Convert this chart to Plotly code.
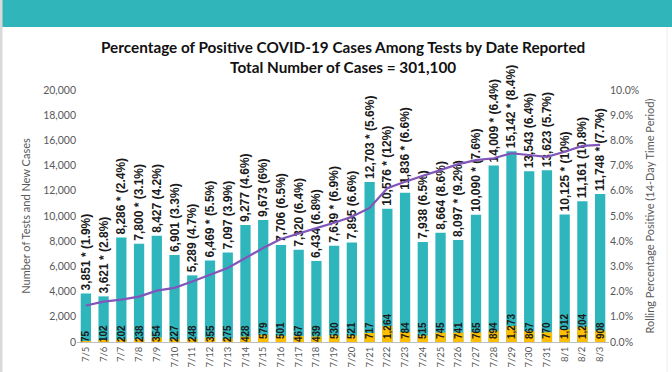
import plotly.graph_objects as go

dates = ["7/5","7/6","7/7","7/8","7/9","7/10","7/11","7/12","7/13","7/14","7/15","7/16","7/17","7/18","7/19",
         "7/20","7/21","7/22","7/23","7/24","7/25","7/26","7/27","7/28","7/29","7/30","7/31","8/1","8/2","8/3"]
tests = [3851,3621,8286,7800,8427,6901,5289,6469,7097,9277,9673,7706,7320,6434,7639,
         7895,12703,10576,11836,7938,8664,8097,10090,14009,15142,13543,13623,10125,11161,11748]
tests_labels = ["3,851 * (1.9%)","3,621 * (2.8%)","8,286 * (2.4%)","7,800 * (3.1%)","8,427 (4.2%)",
                "6,901 (3.3%)","5,289 (4.7%)","6,469 * (5.5%)","7,097 (3.9%)","9,277 (4.6%)",
                "9,673 (6%)","7,706 (6.5%)","7,320 (6.4%)","6,434 (6.8%)","7,639 * (6.9%)",
                "7,895 (6.6%)","12,703 * (5.6%)","10,576 * (12%)","11,836 * (6.6%)","7,938 (6.5%)",
                "8,664 (8.6%)","8,097 * (9.2%)","10,090 * (7.6%)","14,009 * (6.4%)","15,142 * (8.4%)",
                "13,543 (6.4%)","13,623 (5.7%)","10,125 * (10%)","11,161 (10.8%)","11,748 * (7.7%)"]
cases = [75,102,202,238,354,227,248,355,275,428,579,501,467,439,530,
         521,717,1264,784,515,745,741,765,894,1273,867,770,1012,1204,908]
rolling_pct = [1.45,1.6,1.68,1.8,2.04,2.15,2.4,2.66,2.94,3.33,3.73,4.09,4.29,4.52,4.73,
               4.97,5.32,6.1,6.36,6.59,6.83,7.06,7.22,7.29,7.49,7.42,7.35,7.55,7.78,7.82]

TEAL = "#2FB6BC"
GOLD = "#FFBF00"
PURPLE = "#8155BA"
GREY = "#595959"

fig = go.Figure()
fig.add_trace(go.Bar(
    x=dates, y=tests, marker_color=TEAL, marker_line_width=0,
    text=tests_labels, textposition="outside", textangle=-90,
    constraintext="none", cliponaxis=False,
    textfont=dict(family="Liberation Sans", size=12, color="#1a1a1a", weight="bold"),
    showlegend=False, hoverinfo="skip"))
fig.add_trace(go.Bar(
    x=dates, y=cases, marker_color=GOLD, marker_line_width=0,
    text=[f"{c:,}" for c in cases], textposition="inside", insidetextanchor="start",
    textangle=-90, constraintext="none", cliponaxis=False,
    textfont=dict(family="Liberation Sans", size=10, color="#1a1a1a", weight="bold"),
    showlegend=False, hoverinfo="skip"))
fig.add_trace(go.Scatter(
    x=dates, y=rolling_pct, yaxis="y2", mode="lines",
    line=dict(color=PURPLE, width=2.2), showlegend=False, hoverinfo="skip"))

fig.update_layout(
    width=672, height=372,
    margin=dict(l=77, r=63, t=90, b=30),
    paper_bgcolor="white", plot_bgcolor="white",
    barmode="overlay", bargap=0.42,
    font=dict(family="Lato", color=GREY),
    xaxis=dict(type="category", tickangle=-90, showline=True, linecolor="#bfbfbf", linewidth=1,
               ticks="", tickfont=dict(size=9.5, color=GREY), automargin=False, showgrid=False),
    yaxis=dict(range=[0, 20000], dtick=2000, tickformat=",", showgrid=False, zeroline=False,
               ticks="", tickfont=dict(size=10.5, color=GREY), automargin=False,
               title=dict(text="Number of Tests and New Cases", font=dict(size=11, color=GREY), standoff=10)),
    yaxis2=dict(range=[0, 10], dtick=1, tickformat=".1f", ticksuffix="%", overlaying="y", side="right",
                showgrid=False, zeroline=False, ticks="", tickfont=dict(size=10.5, color=GREY),
                automargin=False,
                title=dict(text="Rolling Percentage Positive (14-Day Time Period)",
                           font=dict(size=11, color=GREY), standoff=8)),
)

# header band and side strips (paper coords relative to plot area 77..609 x 90..342)
def px_x(x):
    return (x - 77) / 532
def px_y(y):
    return (342 - y) / 252

fig.add_shape(type="rect", xref="paper", yref="paper", x0=px_x(0), x1=px_x(672), y0=px_y(27), y1=px_y(0),
              fillcolor="#30B5BB", line_width=0, layer="below")
fig.add_shape(type="rect", xref="paper", yref="paper", x0=px_x(0), x1=px_x(2.5), y0=px_y(372), y1=px_y(0),
              fillcolor="#d9d9d9", line_width=0, layer="above")
fig.add_shape(type="line", xref="paper", yref="paper", x0=px_x(667), x1=px_x(667), y0=px_y(372), y1=px_y(27),
              line=dict(color="#ececec", width=1))

fig.add_annotation(xref="paper", yref="paper", x=0.5, y=px_y(57), xanchor="center", yanchor="middle",
                   showarrow=False, align="center",
                   text="<b>Percentage of Positive COVID-19 Cases Among Tests by Date Reported<br>Total Number of Cases = 301,100</b>",
                   font=dict(family="Lato", size=15.3, color="#111111"))

fig.write_html("out.html", config={"displayModeBar": False},
               post_script="document.body.style.margin='0';document.body.style.overflow='hidden';")
